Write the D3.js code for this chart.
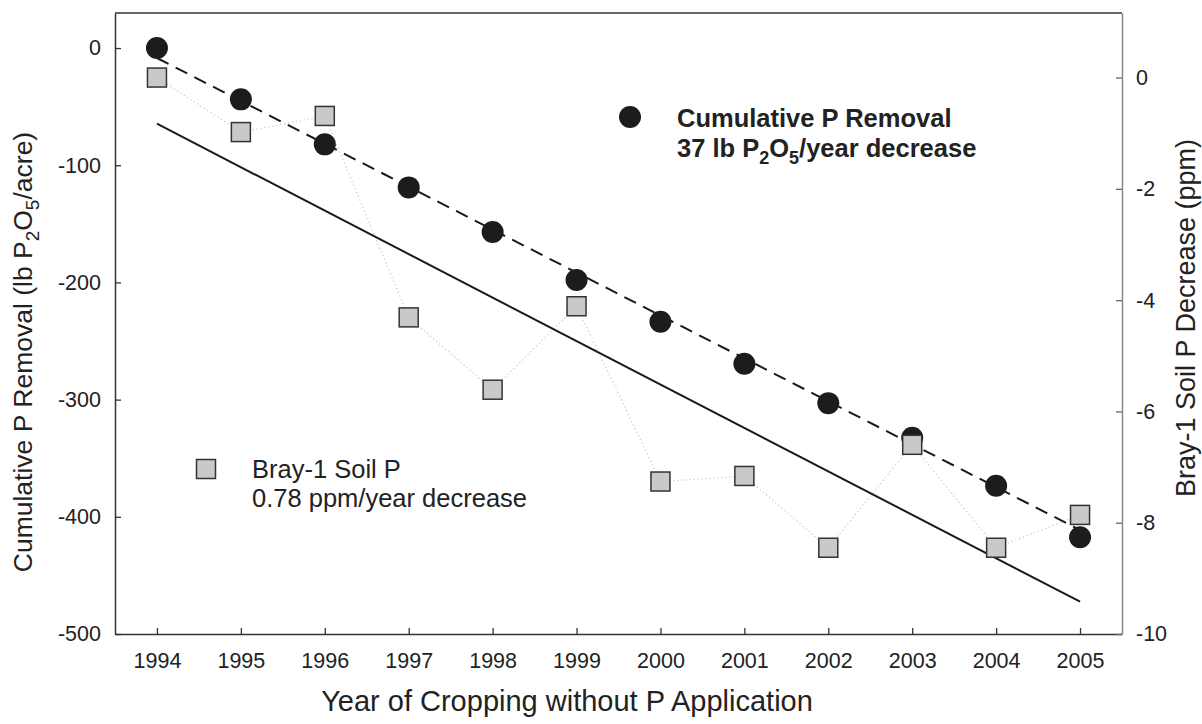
<!DOCTYPE html>
<html>
<head>
<meta charset="utf-8">
<script src="https://cdn.jsdelivr.net/npm/d3@7/dist/d3.min.js"></script>
<style>
  body { margin: 0; background: #fff; }
  svg text { font-family: "Liberation Sans", Arial, sans-serif; fill: #222; }
</style>
</head>
<body>
<svg width="1202" height="724"></svg>
<script>
// ------- data
var years = [1994, 1995, 1996, 1997, 1998, 1999, 2000, 2001, 2002, 2003, 2004, 2005];
// cumulative P removal, lb P2O5/acre (left axis)
var removal = [0, -43.8, -82.2, -118.9, -157, -198, -233.5, -269.4, -303, -332.5, -373.5, -417.5];
// Bray-1 soil P decrease, ppm (right axis)
var brayP = [0, -0.98, -0.69, -4.31, -5.61, -4.11, -7.26, -7.16, -8.45, -6.60, -8.45, -7.86];
// fitted trend lines, values at first and last year
var removalFit = [-8.5, -411.3];
var brayFit = [-0.83, -9.42];
var fitYears = [1994, 2005];
var leftTicks = [0, -100, -200, -300, -400, -500];
var rightTicks = [0, -2, -4, -6, -8, -10];

function draw_chart(){
    var svg = d3.select("svg");
    var pLeft = 115, pRight = 1122, pTop = 13, pBottom = 634;

    var x = d3.scaleLinear().domain([1993.5, 2005.5]).range([pLeft, pRight]);
    var yL = d3.scaleLinear().domain([-500, 29.9]).range([pBottom, pTop]);
    var yR = d3.scaleLinear().domain([-10, 1.16]).range([pBottom, pTop]);

    // plain hyphen for negatives, like the original
    var plain = function(d){ return String(d); };

    //------- axes (ticks point inward)
    var gx = svg.append("g")
        .attr("transform", "translate(0," + pBottom + ")")
        .call(d3.axisBottom(x).tickValues(years).tickFormat(plain)
            .tickSizeInner(-6).tickSizeOuter(0).tickPadding(19));

    var gl = svg.append("g")
        .attr("transform", "translate(" + pLeft + ",0)")
        .call(d3.axisLeft(yL).tickValues(leftTicks).tickFormat(plain)
            .tickSizeInner(-6).tickSizeOuter(0).tickPadding(14));

    var gr = svg.append("g")
        .attr("transform", "translate(" + pRight + ",0)")
        .call(d3.axisRight(yR).tickValues(rightTicks).tickFormat(plain)
            .tickSizeInner(-6).tickSizeOuter(0).tickPadding(14));

    [gx, gl, gr].forEach(function(g){
        g.selectAll("text")
            .style("font-size", "21.5px")
            .style("font-family", "'Liberation Sans', Arial, sans-serif")
            .attr("fill", "#222");
        g.selectAll("line").attr("stroke", "#333").attr("stroke-width", 1.3);
        g.select(".domain").attr("stroke", "#333").attr("stroke-width", 1.5);
    });
    gr.select(".domain").attr("stroke", "#888");
    gr.selectAll("line").attr("stroke", "#666");

    // top border
    svg.append("line")
        .attr("x1", pLeft).attr("x2", pRight)
        .attr("y1", pTop).attr("y2", pTop)
        .attr("stroke", "#333").attr("stroke-width", 1.5);

    //------- series
    var brayData = years.map(function(d, i){ return {year: d, v: brayP[i]}; });
    var remData = years.map(function(d, i){ return {year: d, v: removal[i]}; });

    // dotted line joining the soil P squares
    svg.append("path")
        .datum(brayData)
        .attr("fill", "none")
        .attr("stroke", "#cfcfcf")
        .attr("stroke-width", 1.3)
        .attr("stroke-dasharray", "1.3,2.7")
        .attr("d", d3.line().x(function(d){ return x(d.year); }).y(function(d){ return yR(d.v); }));

    // solid trend for soil P
    svg.append("path")
        .datum(fitYears.map(function(d, i){ return {year: d, v: brayFit[i]}; }))
        .attr("fill", "none")
        .attr("stroke", "#1a1a1a")
        .attr("stroke-width", 2)
        .attr("d", d3.line().x(function(d){ return x(d.year); }).y(function(d){ return yR(d.v); }));

    // dashed trend for P removal
    svg.append("path")
        .datum(fitYears.map(function(d, i){ return {year: d, v: removalFit[i]}; }))
        .attr("fill", "none")
        .attr("stroke", "#1a1a1a")
        .attr("stroke-width", 2)
        .attr("stroke-dasharray", "13,8")
        .attr("d", d3.line().x(function(d){ return x(d.year); }).y(function(d){ return yL(d.v); }));

    svg.append("g").selectAll("circle")
        .data(remData)
        .enter().append("circle")
        .attr("cx", function(d){ return x(d.year); })
        .attr("cy", function(d){ return yL(d.v); })
        .attr("r", 11)
        .attr("fill", "#1c1c1c");

    var sq = 19;
    svg.append("g").selectAll("rect")
        .data(brayData)
        .enter().append("rect")
        .attr("x", function(d){ return x(d.year) - sq/2; })
        .attr("y", function(d){ return yR(d.v) - sq/2; })
        .attr("width", sq).attr("height", sq)
        .attr("fill", "#c8c9cb")
        .attr("stroke", "#333")
        .attr("stroke-width", 1.5);

    //------- legends
    svg.append("circle").attr("cx", 630).attr("cy", 117).attr("r", 11).attr("fill", "#1c1c1c");
    svg.append("text").attr("x", 677).attr("y", 126.5)
        .style("font-size", "25.5px").style("font-weight", "bold")
        .text("Cumulative P Removal");
    var l1b = svg.append("text").attr("x", 677).attr("y", 157)
        .style("font-size", "25.5px").style("font-weight", "bold");
    l1b.append("tspan").text("37 lb P");
    l1b.append("tspan").attr("dy", 7).style("font-size", "18px").text("2");
    l1b.append("tspan").attr("dy", -7).text("O");
    l1b.append("tspan").attr("dy", 7).style("font-size", "18px").text("5");
    l1b.append("tspan").attr("dy", -7).text("/year decrease");

    svg.append("rect").attr("x", 206 - sq/2).attr("y", 469 - sq/2)
        .attr("width", sq).attr("height", sq)
        .attr("fill", "#c8c9cb").attr("stroke", "#333").attr("stroke-width", 1.5);
    svg.append("text").attr("x", 252).attr("y", 478).style("font-size", "25.5px").text("Bray-1 Soil P");
    svg.append("text").attr("x", 252).attr("y", 507).style("font-size", "25.5px").text("0.78 ppm/year decrease");

    //------- axis titles
    svg.append("text")
        .attr("x", 567).attr("y", 711)
        .attr("text-anchor", "middle")
        .style("font-size", "29px")
        .text("Year of Cropping without P Application");

    var lt = svg.append("text")
        .attr("transform", "translate(32,352) rotate(-90)")
        .attr("text-anchor", "middle")
        .style("font-size", "26.5px");
    lt.append("tspan").text("Cumulative P Removal (lb P");
    lt.append("tspan").attr("dy", 7).style("font-size", "19px").text("2");
    lt.append("tspan").attr("dy", -7).text("O");
    lt.append("tspan").attr("dy", 7).style("font-size", "19px").text("5");
    lt.append("tspan").attr("dy", -7).text("/acre)");

    svg.append("text")
        .attr("transform", "translate(1195,318) rotate(-90)")
        .attr("text-anchor", "middle")
        .style("font-size", "27px")
        .text("Bray-1 Soil P Decrease (ppm)");
}

draw_chart();
</script>
</body>
</html>
